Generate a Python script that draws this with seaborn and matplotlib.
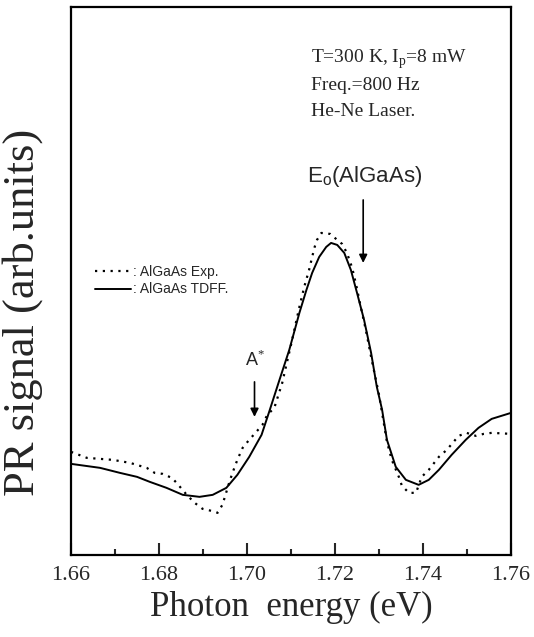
import numpy as np
import pandas as pd
import matplotlib
matplotlib.use("Agg")
import matplotlib.pyplot as plt
import seaborn as sns
from matplotlib.ticker import MultipleLocator
from matplotlib.lines import Line2D

# ---- data (arbitrary units) ----
tdff_energy = [1.6600, 1.6666, 1.6711, 1.6750, 1.6779, 1.6817, 1.6854, 1.6892, 1.6922,
               1.6953, 1.6978, 1.7005, 1.7033, 1.7051, 1.7073, 1.7096, 1.7119, 1.7135,
               1.7148, 1.7164, 1.7180, 1.7191, 1.7205, 1.7221, 1.7236, 1.7250, 1.7266,
               1.7282, 1.7295, 1.7307, 1.7318, 1.7338, 1.7361, 1.7390, 1.7413, 1.7436,
               1.7465, 1.7497, 1.7526, 1.7556, 1.7600]
tdff_signal = [9.1, 8.7, 8.2, 7.8, 7.3, 6.7, 6.0, 5.8, 6.0,
               6.7, 8.0, 9.8, 12.0, 14.4, 17.4, 20.5, 24.2, 26.5,
               28.2, 29.8, 30.8, 31.2, 31.0, 30.2, 28.5, 26.2, 23.5,
               20.2, 16.8, 14.5, 11.5, 8.8, 7.5, 7.0, 7.5, 8.5,
               10.0, 11.5, 12.7, 13.6, 14.2]

exp_energy = [1.6600, 1.6636, 1.6695, 1.6734, 1.6772, 1.6790, 1.6808, 1.6829, 1.6840,
              1.6863, 1.6881, 1.6899, 1.6919, 1.6933, 1.6944, 1.6949, 1.6960, 1.6967,
              1.6978, 1.6990, 1.7003, 1.7019, 1.7035, 1.7046, 1.7062, 1.7080, 1.7092,
              1.7101, 1.7119, 1.7130, 1.7141, 1.7153, 1.7159, 1.7169, 1.7189, 1.7205,
              1.7216, 1.7227, 1.7239, 1.7248, 1.7259, 1.7270, 1.7282, 1.7300, 1.7318,
              1.7329, 1.7345, 1.7352, 1.7368, 1.7384, 1.7397, 1.7413, 1.7436, 1.7454,
              1.7481, 1.7499, 1.7520, 1.7538, 1.7556, 1.7600]
exp_signal = [10.3, 9.7, 9.5, 9.2, 8.7, 8.2, 8.1, 7.7, 7.2,
              6.0, 5.2, 4.6, 4.4, 4.2, 5.0, 5.7, 7.3, 8.2,
              9.5, 10.7, 11.4, 12.2, 13.0, 14.0, 14.7, 17.2, 19.5,
              21.2, 24.8, 26.8, 28.5, 30.7, 31.5, 32.2, 32.1, 31.5,
              31.1, 30.2, 28.7, 27.0, 24.7, 22.5, 19.8, 16.0, 11.3,
              9.5, 7.8, 6.9, 6.2, 6.2, 7.8, 8.5, 9.8, 10.5,
              11.9, 12.2, 11.9, 12.1, 12.2, 12.1]

x_ticks = [1.66, 1.68, 1.70, 1.72, 1.74, 1.76]
x_tick_labels = ["1.66", "1.68", "1.70", "1.72", "1.74", "1.76"]

legend_labels = [": AlGaAs Exp.", ": AlGaAs TDFF."]
info_lines = ["T=300 K, I$_\\mathregular{p}$=8 mW", "Freq.=800 Hz", "He-Ne Laser."]

df_tdff = pd.DataFrame({"E": tdff_energy, "S": tdff_signal})
df_exp = pd.DataFrame({"E": exp_energy, "S": exp_signal})

sns.set_style("ticks")
plt.rcParams["font.family"] = ["Liberation Serif", "DejaVu Serif"]
plt.rcParams["mathtext.fontset"] = "custom"
plt.rcParams["mathtext.rm"] = "Liberation Serif"

fig = plt.figure(figsize=(5.34, 6.37), dpi=100)
ax = fig.add_axes([0.133, 0.129, 0.824, 0.86])

dot_style = (0, (1, 2.5))
sns.lineplot(data=df_exp, x="E", y="S", ax=ax, color="black", linewidth=1.6,
             linestyle=dot_style, sort=False, estimator=None)
sns.lineplot(data=df_tdff, x="E", y="S", ax=ax, color="black", linewidth=1.4,
             sort=False, estimator=None)

ax.set_xlim(1.66, 1.76)
ax.set_ylim(0, 54.8)
ax.set_xticks(x_ticks)
ax.set_xticklabels(x_tick_labels, fontsize=16)
ax.xaxis.set_minor_locator(MultipleLocator(0.01))
ax.tick_params(axis="x", which="major", direction="in", length=9, width=1.5, pad=8)
ax.tick_params(axis="x", which="minor", direction="in", length=4, width=1.5)
ax.set_yticks([])
for sp in ax.spines.values():
    sp.set_visible(True)
    sp.set_linewidth(1.6)
    sp.set_color("black")

ax.set_xlabel("Photon  energy (eV)", fontsize=25, labelpad=4)
ax.set_ylabel("PR signal (arb.units)", fontsize=32)
ax.yaxis.set_label_coords(-0.064, 0.443)

handles = [Line2D([], [], color="black", linewidth=1.6, linestyle=dot_style),
           Line2D([], [], color="black", linewidth=1.4)]
ax.legend(handles, legend_labels, loc="upper left", bbox_to_anchor=(0.025, 0.552),
          frameon=False, handlelength=2.6, handletextpad=0.15, labelspacing=0.25,
          prop={"family": "Liberation Sans", "size": 10})

# info text
for i, t in enumerate(info_lines):
    ax.text(0.545, 0.905 - i * 0.0475, t, transform=ax.transAxes, fontsize=14,
            va="center", ha="left")

# E_o annotation
ax.text(0.536, 0.69, "E$_\\mathregular{o}$(AlGaAs)", transform=ax.transAxes,
        fontsize=16, va="center", ha="left", family="Liberation Sans")
ax.annotate("", xy=(1.7264, 29.2), xytext=(1.7264, 35.5),
            arrowprops=dict(arrowstyle="-|>", color="black", lw=1.2,
                            mutation_scale=12, shrinkA=0, shrinkB=0))

# A* annotation
ax.text(1.6995, 19.5, "A$^{*}$", fontsize=13, va="center", ha="left",
        family="Liberation Sans")
ax.annotate("", xy=(1.7017, 13.8), xytext=(1.7017, 17.3),
            arrowprops=dict(arrowstyle="-|>", color="black", lw=1.2,
                            mutation_scale=12, shrinkA=0, shrinkB=0))

fig.savefig("out.png", dpi=100)
